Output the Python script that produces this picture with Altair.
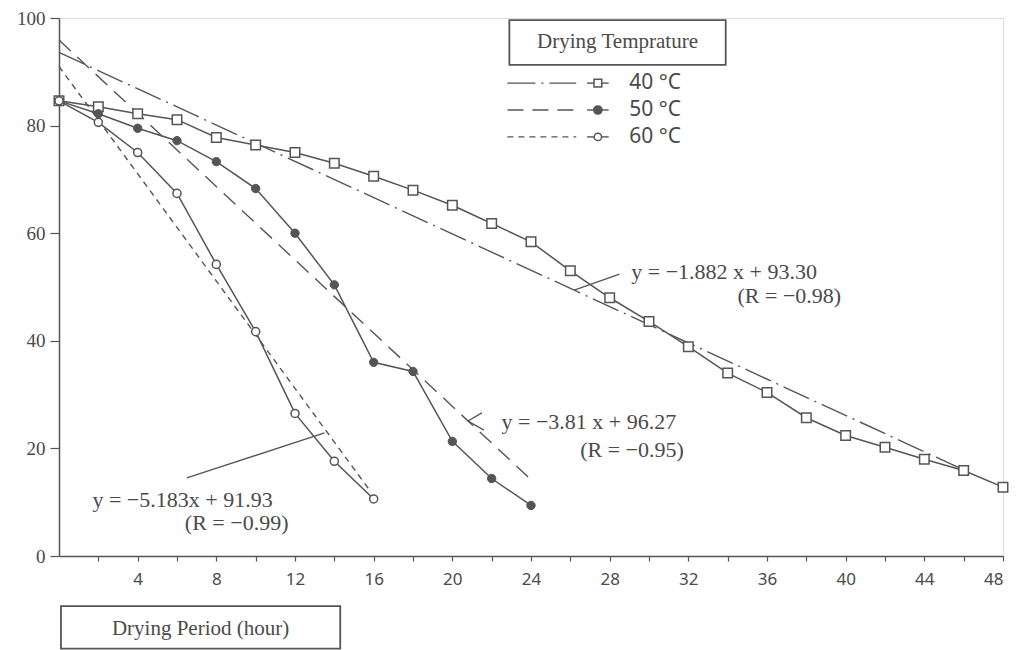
import altair as alt
import pandas as pd

# ---- data ----
hours40 = [0, 2, 4, 6, 8, 10, 12, 14, 16, 18, 20, 22, 24, 26, 28, 30, 32, 34, 36, 38, 40, 42, 44, 46, 48]
moist40 = [84.6, 83.5, 82.2, 81.1, 77.8, 76.4, 75.0, 73.0, 70.6, 68.0, 65.2, 61.8, 58.4, 53.0, 48.0,
           43.6, 38.9, 34.0, 30.4, 25.7, 22.4, 20.2, 18.0, 15.9, 12.8]
hours50 = [0, 2, 4, 6, 8, 10, 12, 14, 16, 18, 20, 22, 24]
moist50 = [84.6, 82.2, 79.5, 77.2, 73.3, 68.3, 60.0, 50.4, 36.0, 34.3, 21.3, 14.4, 9.4]
hours60 = [0, 2, 4, 6, 8, 10, 12, 14, 16]
moist60 = [84.6, 80.6, 75.0, 67.4, 54.2, 41.7, 26.5, 17.6, 10.6]

temps = ["40", "50", "60"]
temp_labels = ["40 °C", "50 °C", "60 °C"]

# fitted lines as drawn (start / end)
fit_x0 = [0, 0, 0]
fit_y0 = [93.6, 95.9, 91.0]
fit_x1 = [46.0, 24.0, 15.8]
fit_y1 = [16.0, 14.2, 12.2]

# equation annotations
eq_text = ["y = −1.882 x + 93.30", "(R = −0.98)",
           "y = −3.81 x + 96.27", "(R = −0.95)",
           "y = −5.183x + 91.93", "(R = −0.99)"]
eq_x = [29.1, 34.5, 22.5, 26.5, 1.7, 6.4]
eq_y = [52.8, 48.3, 24.9, 19.7, 10.4, 6.1]

# leader lines
lead_id = ["a", "a", "b", "b", "b", "c", "c"]
lead_x = [26.2, 28.5, 21.5, 20.8, 21.6, 6.5, 13.5]
lead_y = [49.4, 52.4, 26.6, 25.1, 23.4, 14.5, 22.9]

# legend geometry (in data units)
leg_y = [87.9, 82.9, 77.9]
leg_line_x = [22.8, 26.3]
leg_mark_x = 27.4
leg_label_x = 29.0
leg_box = [22.9, 33.9, 99.6, 91.3]
leg_title = "Drying Temprature"
x_title = "Drying Period (hour)"
x_title_box = [0.1, 14.3, -9.3, -17.2]

GREY = "#555555"
TXT = "#4a4a4a"

df40 = pd.DataFrame({"hour": hours40, "m": moist40, "temp": "40"})
df50 = pd.DataFrame({"hour": hours50, "m": moist50, "temp": "50"})
df60 = pd.DataFrame({"hour": hours60, "m": moist60, "temp": "60"})
data = pd.concat([df40, df50, df60], ignore_index=True)

fit_rows = []
for i, t in enumerate(temps):
    fit_rows.append({"temp": t, "hour": fit_x0[i], "m": fit_y0[i]})
    fit_rows.append({"temp": t, "hour": fit_x1[i], "m": fit_y1[i]})
fit = pd.DataFrame(fit_rows)

eq = pd.DataFrame({"t": eq_text, "hour": eq_x, "m": eq_y})
lead = pd.DataFrame({"id": lead_id, "hour": lead_x, "m": lead_y, "o": list(range(len(lead_id)))})

leg_rows = []
for i, t in enumerate(temps):
    for xx in leg_line_x:
        leg_rows.append({"temp": t, "hour": xx, "m": leg_y[i]})
leg_lines = pd.DataFrame(leg_rows)
leg_ticks = pd.DataFrame([{"temp": t, "hour": x, "m": leg_y[i]}
                          for i, t in enumerate(temps) for x in (leg_mark_x - 0.55, leg_mark_x + 0.55)])
leg_pts = pd.DataFrame({"temp": temps, "hour": [leg_mark_x] * 3, "m": leg_y})
leg_lab = pd.DataFrame({"t": temp_labels, "hour": [leg_label_x] * 3, "m": leg_y})

xscale = alt.Scale(domain=[0, 48], nice=False, zero=False)
yscale = alt.Scale(domain=[0, 100], nice=False)
xaxis = alt.Axis(values=list(range(2, 49, 2)), labelExpr="datum.value % 4 == 0 ? datum.label : ''",
                 title=None, grid=False, tickSize=5, labelPadding=10, labelFontSize=17,
                 labelFont="Noto Sans", labelColor=TXT, domainColor=GREY, tickColor=GREY,
                 domainWidth=1.5, tickWidth=1.2)
yaxis = alt.Axis(values=[0, 20, 40, 60, 80, 100], title=None, grid=False, tickSize=9, labelPadding=5,
                 labelFontSize=19, labelFont="Liberation Serif", labelColor=TXT, domainColor=GREY,
                 tickColor=GREY, domainWidth=1.5, tickWidth=1.2)
X = alt.X("hour:Q", scale=xscale, axis=xaxis)
Y = alt.Y("m:Q", scale=yscale, axis=yaxis)
dash = alt.StrokeDash("temp:N", scale=alt.Scale(domain=temps, range=[[28, 6, 2, 6], [16, 9], [6, 5]]), legend=None)

lines = alt.Chart(data).mark_line(color=GREY, strokeWidth=1.5).encode(x=X, y=Y, detail="temp:N")
fits = alt.Chart(fit).mark_line(color=GREY, strokeWidth=1.4).encode(x=X, y=Y, strokeDash=dash)

p40 = alt.Chart(df40).mark_point(shape="square", filled=True, fill="white", stroke=GREY,
                                 strokeWidth=1.5, size=90, opacity=1).encode(x=X, y=Y)
p50 = alt.Chart(df50).mark_point(shape="circle", filled=True, fill=GREY, stroke=GREY,
                                 strokeWidth=1, size=70, opacity=1).encode(x=X, y=Y)
p60 = alt.Chart(df60).mark_point(shape="circle", filled=True, fill="white", stroke=GREY,
                                 strokeWidth=1.5, size=65, opacity=1).encode(x=X, y=Y)

eq_txt = alt.Chart(eq).mark_text(align="left", baseline="middle", font="Liberation Serif",
                                 fontSize=22, color=TXT).encode(x=X, y=Y, text="t:N")
leads = alt.Chart(lead).mark_line(color=GREY, strokeWidth=1.3).encode(x=X, y=Y, detail="id:N", order="o:Q")

# legend
box_df = pd.DataFrame({"hour": [leg_box[0]], "h2": [leg_box[1]], "m": [leg_box[2]], "m2": [leg_box[3]]})
box = alt.Chart(box_df).mark_rect(fill="white", stroke=GREY, strokeWidth=1.8).encode(
    x=X, x2="h2:Q", y=Y, y2="m2:Q")
box_t = alt.Chart(pd.DataFrame({"t": [leg_title], "hour": [(leg_box[0] + leg_box[1]) / 2],
                                "m": [(leg_box[2] + leg_box[3]) / 2]})).mark_text(
    font="Liberation Serif", fontSize=21, color=TXT, baseline="middle").encode(x=X, y=Y, text="t:N")
leg_l = alt.Chart(leg_lines).mark_line(color=GREY, strokeWidth=1.4).encode(x=X, y=Y, strokeDash=dash, detail="temp:N")
leg_tk = alt.Chart(leg_ticks).mark_line(color=GREY, strokeWidth=1.4).encode(x=X, y=Y, detail="temp:N")
leg_p40 = alt.Chart(leg_pts[leg_pts.temp == "40"]).mark_point(shape="square", filled=True, fill="white",
                                                              stroke=GREY, strokeWidth=1.5, size=60,
                                                              opacity=1).encode(x=X, y=Y)
leg_p50 = alt.Chart(leg_pts[leg_pts.temp == "50"]).mark_point(shape="circle", filled=True, fill=GREY,
                                                              stroke=GREY, size=60, opacity=1).encode(x=X, y=Y)
leg_p60 = alt.Chart(leg_pts[leg_pts.temp == "60"]).mark_point(shape="circle", filled=True, fill="white",
                                                              stroke=GREY, strokeWidth=1.5, size=55,
                                                              opacity=1).encode(x=X, y=Y)
leg_tx = alt.Chart(leg_lab).mark_text(align="left", baseline="middle", font="Noto Sans", fontSize=21,
                                      color=TXT).encode(x=X, y=Y, text="t:N")

# x-axis title box
xb_df = pd.DataFrame({"hour": [x_title_box[0]], "h2": [x_title_box[1]], "m": [x_title_box[2]], "m2": [x_title_box[3]]})
xbox = alt.Chart(xb_df).mark_rect(fill="white", stroke=GREY, strokeWidth=1.8, clip=False).encode(
    x=X, x2="h2:Q", y=Y, y2="m2:Q")
xbox_t = alt.Chart(pd.DataFrame({"t": [x_title], "hour": [(x_title_box[0] + x_title_box[1]) / 2],
                                 "m": [(x_title_box[2] + x_title_box[3]) / 2 - 0.4]})).mark_text(
    font="Liberation Serif", fontSize=21, color=TXT, baseline="middle", clip=False).encode(x=X, y=Y, text="t:N")

chart = alt.layer(
    lines, fits, leads, p40, p50, p60, eq_txt,
    box, box_t, leg_l, leg_tk, leg_p40, leg_p50, leg_p60, leg_tx,
    xbox, xbox_t
).properties(
    width=944, height=538,
    autosize=alt.AutoSizeParams(type="none"),
    padding={"left": 51, "top": 10, "right": 9, "bottom": 94},
).configure_view(stroke=None).configure(background="white")

chart.save("out.html", embed_options={"renderer": "svg", "actions": False})
